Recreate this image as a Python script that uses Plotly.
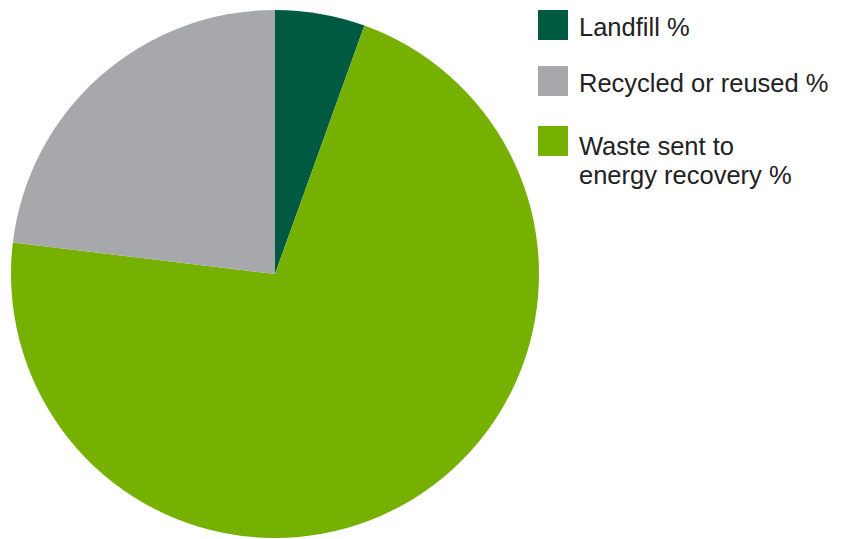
import plotly.graph_objects as go

W, H = 845, 539
OFF = 8  # page body margin offset

# slices (clockwise from 12 o'clock)
labels = ["Landfill %", "Waste sent to energy recovery %", "Recycled or reused %"]
values = [5.5, 71.4, 23.1]
colors = ["#005a42", "#76b000", "#a7a8ac"]

# legend
legend_lines = [["Landfill %"], ["Recycled or reused %"], ["Waste sent to", "energy recovery %"]]
legend_colors = ["#005a42", "#a7a8ac", "#76b000"]

cx, cy, r = 275 - OFF, 274 - OFF, 264

fig = go.Figure(go.Pie(
    labels=labels,
    values=values,
    sort=False,
    direction="clockwise",
    rotation=0,
    marker=dict(colors=colors, line=dict(width=0)),
    textinfo="none",
    hoverinfo="label+value",
    showlegend=False,
    domain=dict(x=[(cx - r) / W, (cx + r) / W], y=[(H - cy - r) / H, (H - cy + r) / H]),
))

shapes = []
annotations = []
sw_x0, sw_size = 538 - OFF, 30
sw_tops = [10, 66, 126]
line_centers = [[27.4], [83.4], [145.7, 175.0]]
font = dict(family="Liberation Sans, Arial, sans-serif", size=25.5, color="#222222")
for i, (lines, c) in enumerate(zip(legend_lines, legend_colors)):
    y0 = sw_tops[i] - OFF
    shapes.append(dict(type="rect", xref="paper", yref="paper",
                       x0=sw_x0 / W, x1=(sw_x0 + sw_size) / W,
                       y0=1 - y0 / H, y1=1 - (y0 + sw_size) / H,
                       fillcolor=c, line=dict(width=0)))
    for t, yc in zip(lines, line_centers[i]):
        annotations.append(dict(xref="paper", yref="paper", x=(577 - OFF) / W, y=1 - (yc - OFF) / H,
                                xanchor="left", yanchor="middle", align="left",
                                text=t, showarrow=False, font=font))

fig.update_layout(
    width=W, height=H,
    margin=dict(l=0, r=0, t=0, b=0),
    paper_bgcolor="white", plot_bgcolor="white",
    shapes=shapes, annotations=annotations,
)

fig.write_html("out.html")
